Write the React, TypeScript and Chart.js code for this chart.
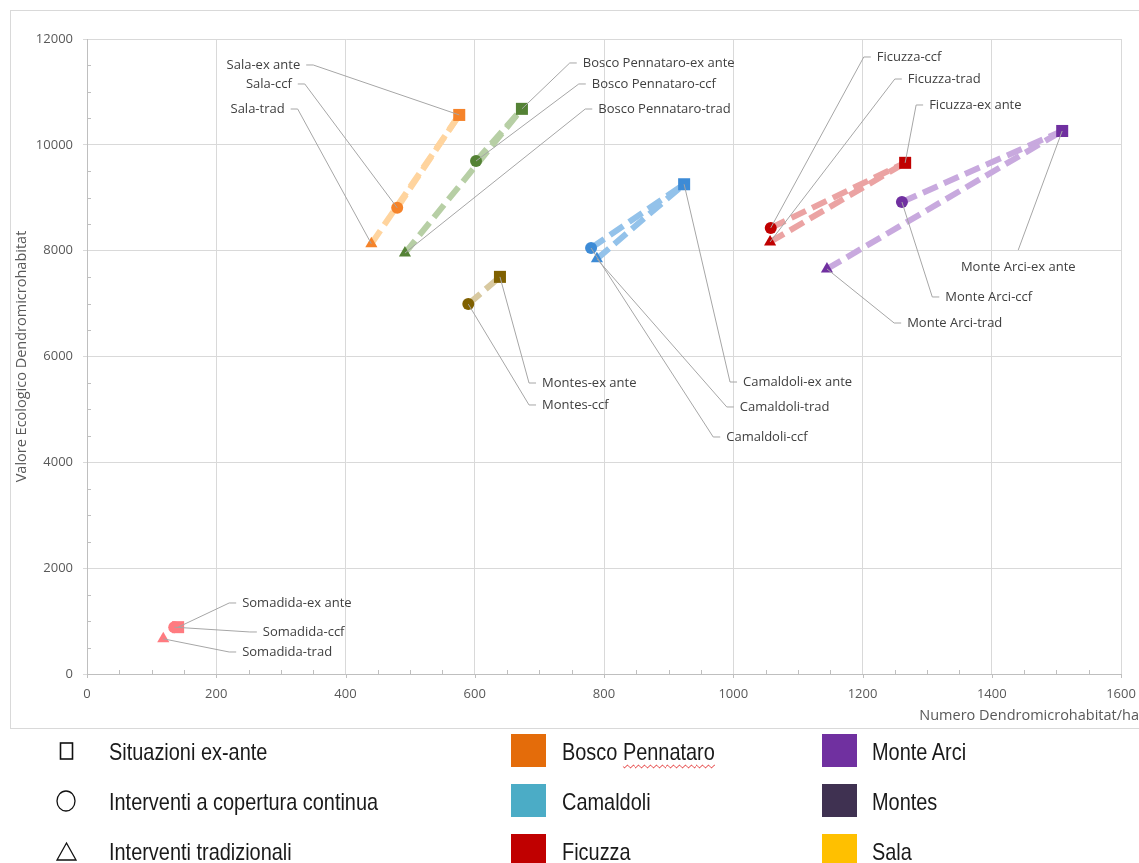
import React, { useEffect, useRef } from 'react';
import { Chart, registerables } from 'chart.js';

Chart.register(...registerables);

// ---------- data ----------
const sites = ['Sala', 'Bosco Pennataro', 'Camaldoli', 'Montes', 'Ficuzza', 'Monte Arci', 'Somadida'];
const exAnteX = [576, 673, 924, 639, 1266, 1509, 141];
const exAnteY = [10565, 10680, 9255, 7505, 9660, 10262, 885];
const ccfX = [480, 602, 780, 590, 1058, 1261, 135];
const ccfY = [8810, 9695, 8050, 6990, 8430, 8920, 885];
const tradX: (number | null)[] = [440, 492, 789, null, 1057, 1145, 118];
const tradY: (number | null)[] = [8130, 7955, 7845, null, 8165, 7655, 665];

const markerColors = ['#F5832A', '#548235', '#3D8BD6', '#7F6000', '#C00000', '#7030A0', '#FF7B80'];
const lineColors = ['#FFD49E', '#B7CFA5', '#93C2EA', '#D8C9A0', '#EBA3A3', '#C8A9DE', '#FFB8BA'];
const showTrend = [true, true, true, true, true, true, false];

const xTickStep = 200;
const yTickStep = 2000;
const xMinorStep = 50;
const yMinorStep = 500;

const xTitle = 'Numero Dendromicrohabitat/ha';
const yTitle = 'Valore Ecologico Dendromicrohabitat';

// label anchors (elbow of the leader line) in data units
const exAnteLabelX = [350, 747, 995, 684, 1283, 1441, 220];
const exAnteLabelY = [11509, 11547, 5518, 5499, 10753, 8013, 1342];
const exAnteLabelAlign = ['right', 'left', 'left', 'left', 'left', 'below', 'left'];
const ccfLabelX = [337, 761, 969, 684, 1202, 1308, 252];
const ccfLabelY = [11150, 11150, 4479, 5084, 11660, 7125, 794];
const ccfLabelAlign = ['right', 'left', 'left', 'left', 'left', 'left', 'left'];
const tradLabelX: (number | null)[] = [326, 771, 990, null, 1250, 1249, 220];
const tradLabelY: (number | null)[] = [10677, 10677, 5046, null, 11244, 6633, 416];
const tradLabelAlign: (string | null)[] = ['right', 'left', 'left', null, 'left', 'left', 'left'];

const legendShapes = ['Situazioni ex-ante', 'Interventi a copertura continua', 'Interventi tradizionali'];
const legendSites = ['Bosco Pennataro', 'Camaldoli', 'Ficuzza', 'Monte Arci', 'Montes', 'Sala'];
const legendColors = ['#E46C0A', '#4BACC6', '#C00000', '#7030A0', '#3F3151', '#FFC000'];

const FONT = "'Open Sans', 'Noto Sans', sans-serif";

type Lbl = { px: number; py: number; lx: number; ly: number; align: string; text: string };

const annotPlugin = {
  id: 'annot',
  beforeDatasetsDraw(chart: any) {
    const { ctx, scales } = chart;
    const xs = scales.x;
    const ys = scales.y;
    const x0 = xs.getPixelForValue(0);
    const y0 = ys.getPixelForValue(0);
    ctx.save();
    ctx.strokeStyle = '#BFBFBF';
    ctx.lineWidth = 1;
    ctx.beginPath();
    for (let v = xMinorStep; v < 1600; v += xMinorStep) {
      if (v % xTickStep === 0) continue;
      const p = Math.round(xs.getPixelForValue(v)) + 0.5;
      ctx.moveTo(p, y0);
      ctx.lineTo(p, y0 - 4);
    }
    for (let v = 0; v <= 1600; v += xTickStep) {
      const p = Math.round(xs.getPixelForValue(v)) + 0.5;
      ctx.moveTo(p, y0);
      ctx.lineTo(p, y0 + 4);
    }
    for (let v = yMinorStep; v < 12000; v += yMinorStep) {
      if (v % yTickStep === 0) continue;
      const p = Math.round(ys.getPixelForValue(v)) + 0.5;
      ctx.moveTo(x0, p);
      ctx.lineTo(x0 + 4, p);
    }
    ctx.stroke();
    ctx.restore();
  },
  afterDraw(chart: any) {
    const { ctx, scales } = chart;
    const xs = scales.x;
    const ys = scales.y;
    const labels: Lbl[] = [];
    sites.forEach((s, i) => {
      labels.push({
        px: xs.getPixelForValue(exAnteX[i]), py: ys.getPixelForValue(exAnteY[i]),
        lx: xs.getPixelForValue(exAnteLabelX[i]), ly: ys.getPixelForValue(exAnteLabelY[i]),
        align: exAnteLabelAlign[i], text: s + '-ex ante',
      });
      labels.push({
        px: xs.getPixelForValue(ccfX[i]), py: ys.getPixelForValue(ccfY[i]),
        lx: xs.getPixelForValue(ccfLabelX[i]), ly: ys.getPixelForValue(ccfLabelY[i]),
        align: ccfLabelAlign[i], text: s + '-ccf',
      });
      if (tradX[i] !== null && tradLabelX[i] !== null) {
        labels.push({
          px: xs.getPixelForValue(tradX[i]), py: ys.getPixelForValue(tradY[i]),
          lx: xs.getPixelForValue(tradLabelX[i]), ly: ys.getPixelForValue(tradLabelY[i] as number),
          align: tradLabelAlign[i] as string, text: s + '-trad',
        });
      }
    });
    ctx.save();
    ctx.strokeStyle = '#A6A6A6';
    ctx.lineWidth = 1;
    ctx.font = `13px ${FONT}`;
    ctx.fillStyle = '#404040';
    ctx.textBaseline = 'middle';
    labels.forEach((l) => {
      ctx.beginPath();
      ctx.moveTo(l.px, l.py);
      ctx.lineTo(l.lx, l.ly);
      if (l.align === 'left') ctx.lineTo(l.lx + 7, l.ly);
      else if (l.align === 'right') ctx.lineTo(l.lx - 7, l.ly);
      ctx.stroke();
      if (l.align === 'left') {
        ctx.textAlign = 'left';
        ctx.fillText(l.text, l.lx + 13, l.ly);
      } else if (l.align === 'right') {
        ctx.textAlign = 'right';
        ctx.fillText(l.text, l.lx - 13, l.ly);
      } else {
        ctx.textAlign = 'center';
        ctx.fillText(l.text, l.lx, l.ly + 17);
      }
    });
    // axis titles
    ctx.fillStyle = '#595959';
    ctx.font = `14.5px ${FONT}`;
    ctx.textAlign = 'right';
    ctx.fillText(xTitle, 1139, 716);
    ctx.save();
    ctx.translate(22, (chart.chartArea.top + chart.chartArea.bottom) / 2);
    ctx.rotate(-Math.PI / 2);
    ctx.textAlign = 'center';
    ctx.fillText(yTitle, 0, 0);
    ctx.restore();
    ctx.restore();
  },
};

function buildDatasets() {
  const ds: any[] = [];
  const colorOf = (c: any) => markerColors[c.raw ? c.raw.i : 0];
  ds.push({
    label: 'ex ante',
    data: sites.map((_, i) => ({ x: exAnteX[i], y: exAnteY[i], i })),
    pointStyle: 'rect', pointRadius: 8.5, pointBackgroundColor: colorOf, pointBorderColor: colorOf, pointBorderWidth: 0,
    showLine: false, order: 0,
  });
  ds.push({
    label: 'ccf',
    data: sites.map((_, i) => ({ x: ccfX[i], y: ccfY[i], i })),
    pointStyle: 'circle', pointRadius: 6, pointBackgroundColor: colorOf, pointBorderColor: colorOf, pointBorderWidth: 0,
    showLine: false, order: 0,
  });
  ds.push({
    label: 'trad',
    data: sites.map((_, i) => ({ x: tradX[i], y: tradY[i], i })).filter((p) => p.x !== null),
    pointStyle: 'triangle', pointRadius: 7, pointBackgroundColor: colorOf, pointBorderColor: colorOf, pointBorderWidth: 0,
    showLine: false, order: 0,
  });
  sites.forEach((_, i) => {
    if (!showTrend[i]) return;
    const common = {
      showLine: true, pointRadius: 0, borderColor: lineColors[i], borderWidth: 6,
      borderDash: [16, 7], borderCapStyle: 'butt', order: 1, tension: 0,
    };
    if (tradX[i] !== null) {
      ds.push({ ...common, label: 'l', data: [{ x: tradX[i], y: tradY[i] }, { x: exAnteX[i], y: exAnteY[i] }] });
    }
    ds.push({ ...common, label: 'l', data: [{ x: ccfX[i], y: ccfY[i] }, { x: exAnteX[i], y: exAnteY[i] }] });
  });
  return ds;
}

function ChartCanvas() {
  const ref = useRef<HTMLCanvasElement | null>(null);
  useEffect(() => {
    if (!ref.current) return;
    const tickFont = { family: FONT, size: 13 };
    const chart = new Chart(ref.current, {
      type: 'scatter',
      data: { datasets: buildDatasets() },
      options: {
        animation: false,
        responsive: false,
        devicePixelRatio: 1,
        layout: { padding: { top: 39, right: 18, left: 0, bottom: 0 } },
        plugins: { legend: { display: false }, tooltip: { enabled: false } },
        scales: {
          x: {
            type: 'linear', min: 0, max: 1600,
            ticks: { stepSize: xTickStep, color: '#595959', font: tickFont, padding: 0, callback: (v: any) => String(v) },
            grid: { color: '#D9D9D9', tickLength: 12, drawTicks: true, tickColor: 'rgba(0,0,0,0)' },
            border: { color: '#BFBFBF' },
            afterFit: (s: any) => { s.height = 863 - 674; },
          },
          y: {
            type: 'linear', min: 0, max: 12000,
            ticks: { stepSize: yTickStep, color: '#595959', font: tickFont, padding: 10, callback: (v: any) => String(v) },
            grid: { color: '#D9D9D9', tickLength: 4, drawTicks: true },
            border: { color: '#BFBFBF' },
            afterFit: (s: any) => { s.width = 87; },
          },
        },
      } as any,
      plugins: [annotPlugin],
    });
    return () => chart.destroy();
  }, []);
  return (
    <canvas ref={ref} width={1139} height={863}
      style={{ position: 'absolute', left: 0, top: 0, width: 1139, height: 863 }} />
  );
}

function Txt({ children, x, y }: { children: React.ReactNode; x: number; y: number }) {
  return (
    <div style={{
      position: 'absolute', left: x, top: y - 15, height: 30, lineHeight: '30px',
      fontFamily: "'Liberation Sans', Arial, sans-serif", fontSize: 24, color: '#1a1a1a',
      transform: 'scaleX(0.83)', transformOrigin: 'left center', whiteSpace: 'nowrap',
    }}>{children}</div>
  );
}

export default function App() {
  const rows = [751, 801, 851];
  return (
    <div style={{ position: 'fixed', left: 0, top: 0, width: 1139, height: 863, overflow: 'hidden', background: '#fff' }}>
      <div style={{ position: 'absolute', left: 10, top: 10, width: 1160, height: 717, border: '1px solid #D9D9D9' }} />
      <ChartCanvas />
      {/* shape legend */}
      <svg style={{ position: 'absolute', left: 0, top: 720, width: 100, height: 143 }} width={100} height={143}>
        <rect x={60.5} y={rows[0] - 720 - 8} width={12} height={16} fill="none" stroke="#111" strokeWidth={1.6} />
        <ellipse cx={66} cy={rows[1] - 720} rx={9} ry={10} fill="none" stroke="#111" strokeWidth={1.3} />
        <polygon points={`${57},${rows[2] - 720 + 9} ${76},${rows[2] - 720 + 9} ${66.5},${rows[2] - 720 - 8}`} fill="none" stroke="#111" strokeWidth={1.3} />
      </svg>
      {legendShapes.map((t, i) => (
        <Txt key={t} x={109} y={rows[i] + 1}>{t}</Txt>
      ))}
      {legendSites.map((s, i) => {
        const col = Math.floor(i / 3);
        const row = i % 3;
        const sx = col === 0 ? 511 : 822;
        const tx = col === 0 ? 562 : 872;
        const content = s === 'Bosco Pennataro'
          ? (<span>Bosco <span style={{ textDecorationLine: 'underline', textDecorationStyle: 'wavy', textDecorationColor: '#E02020', textUnderlineOffset: '4px', textDecorationThickness: '1px' }}>Pennataro</span></span>)
          : s;
        return (
          <React.Fragment key={s}>
            <div style={{ position: 'absolute', left: sx, top: rows[row] - 17, width: 35, height: 33, background: legendColors[i] }} />
            <Txt x={tx} y={rows[row] + 1}>{content}</Txt>
          </React.Fragment>
        );
      })}
    </div>
  );
}
